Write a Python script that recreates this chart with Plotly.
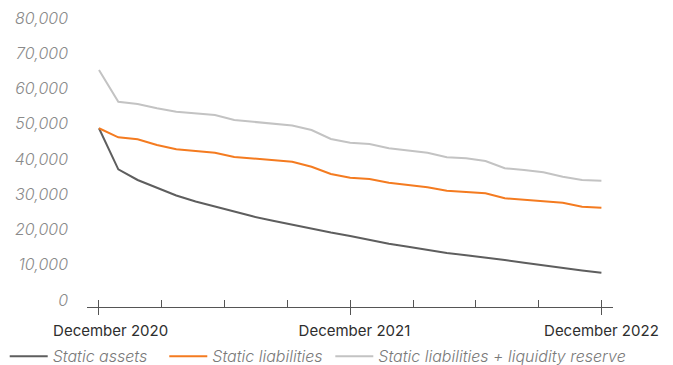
import plotly.graph_objects as go

# ---- data ----
months = list(range(27))  # Dec 2020 .. Dec 2022 (index positions)
static_assets = [50700, 39060, 36030, 33760, 31630, 29930, 28510, 27040, 25650,
                 24450, 23290, 22160, 21110, 20170, 19040, 17960, 17080, 16200,
                 15350, 14700, 14130, 13360, 12540, 11750, 11040, 10380, 9730]
static_liabilities = [50700, 48140, 47580, 45960, 44740, 44340, 43770, 42550, 42130,
                      41700, 41220, 39800, 37730, 36680, 36310, 35260, 34610, 33960,
                      32990, 32710, 32260, 30840, 30360, 30070, 29590, 28450, 28170]
liq_reserve = [67230, 58240, 57590, 56370, 55410, 54950, 54470, 53050, 52480,
               52060, 51490, 50210, 47660, 46610, 46240, 45020, 44340, 43770,
               42470, 42190, 41420, 39350, 38870, 38210, 36970, 36030, 35830]

series_names = ["Static assets", "Static liabilities", "Static liabilities + liquidity reserve"]
series_colors = ["#5e5e5e", "#f47b20", "#c3c3c3"]

y_ticks = [0, 10000, 20000, 30000, 40000, 50000, 60000, 70000, 80000]
x_label_pos = [0.6, 13.22, 26]
x_label_text = ["December 2020", "December 2021", "December 2022"]
x_major = [0, 13, 26]
x_all = [0, 3.25, 6.5, 9.75, 13, 16.25, 19.5, 22.75, 26]

FONT = "Inter"
x_range = [-0.62, 26.6]
legend_ids = ["legend", "legend2", "legend3"]
legend_x = [0.007, 0.2441, 0.4908]

fig = go.Figure()
for name, vals, col, lg in zip(series_names, [static_assets, static_liabilities, liq_reserve],
                               series_colors, legend_ids):
    fig.add_trace(go.Scatter(x=months, y=vals, name=name, mode="lines", legend=lg,
                             line=dict(color=col, width=2)))

# empty helpers to materialise the tick overlay axes
fig.add_trace(go.Scatter(x=[], y=[], xaxis="x2", showlegend=False, hoverinfo="skip"))
fig.add_trace(go.Scatter(x=[], y=[], xaxis="x3", showlegend=False, hoverinfo="skip"))

legend_font = dict(family=FONT, size=16, color="#7a7a7a", style="italic", weight=300)
legends = {}
for lg, lx in zip(legend_ids, legend_x):
    legends[lg] = dict(orientation="h", xref="container", yref="container",
                       x=lx, xanchor="left", y=0.024, yanchor="middle", itemwidth=38,
                       font=legend_font, bgcolor="rgba(0,0,0,0)")

fig.update_layout(
    width=673, height=365,
    margin=dict(l=87, r=60, t=25, b=58, autoexpand=False),
    paper_bgcolor="white", plot_bgcolor="white",
    font=dict(family=FONT, color="#777777"),
    xaxis=dict(range=x_range, showgrid=False, zeroline=False, automargin=False,
               showline=True, linecolor="#555555", linewidth=1,
               tickmode="array", tickvals=x_label_pos, ticktext=x_label_text,
               ticks="", ticklabelstandoff=10,
               tickfont=dict(family=FONT, size=15, color="#2e2e2e", weight=400)),
    xaxis2=dict(range=x_range, overlaying="x", anchor="y", side="bottom", automargin=False,
                showgrid=False, zeroline=False, showline=False,
                tickmode="array", tickvals=x_major, ticks="outside",
                ticklen=7, tickwidth=1, tickcolor="#555555", showticklabels=False),
    xaxis3=dict(range=x_range, overlaying="x", anchor="y", side="bottom", automargin=False,
                showgrid=False, zeroline=False, showline=False,
                tickmode="array", tickvals=x_all, ticks="inside",
                ticklen=7, tickwidth=1, tickcolor="#555555", showticklabels=False),
    yaxis=dict(range=[0, 80000], showgrid=False, zeroline=False, showline=False, automargin=False,
               tickmode="array", tickvals=y_ticks, tickformat=",", ticks="",
               ticklabelstandoff=18, ticklabelshift=-7,
               tickfont=dict(family=FONT, size=16, color="#8a8a8a", style="italic", weight=300)),
    showlegend=True,
    **legends,
)

fig.write_html("out.html")
